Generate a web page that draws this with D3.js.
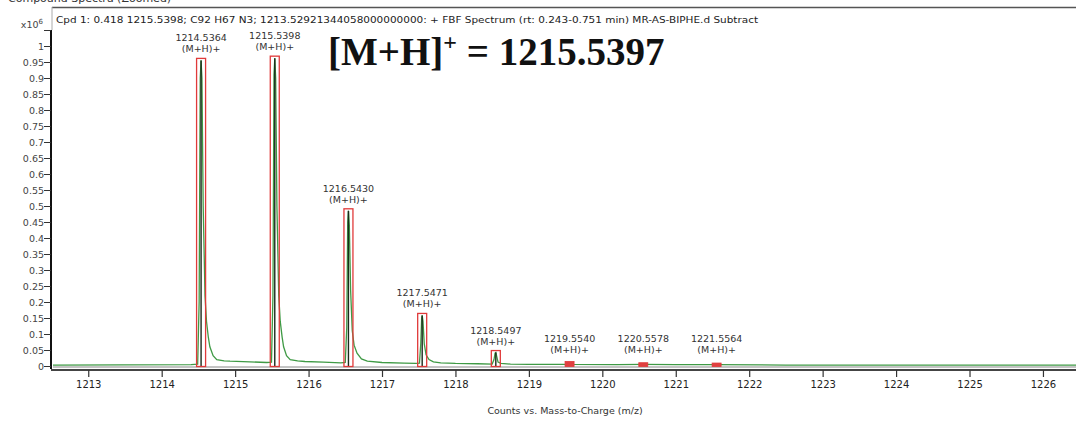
<!DOCTYPE html>
<html>
<head>
<meta charset="utf-8">
<script src="https://cdn.jsdelivr.net/npm/d3@7/dist/d3.min.js"></script>
<style>
  html, body { margin: 0; padding: 0; background: #fff; }
  svg { display: block; }
  text { font-family: "DejaVu Sans", "Liberation Sans", sans-serif; }
  text.ann { font-family: "Liberation Serif", "Times New Roman", serif; }
</style>
</head>
<body>
<svg id="chart" width="1076" height="421"></svg>
<script>
// Labelled isotope peaks: m/z, intensity (x10^6)
const peakMz = [1214.5364, 1215.5398, 1216.5430, 1217.5471, 1218.5497, 1219.5540, 1220.5578, 1221.5564];
const peakIntensity = [0.955, 0.962, 0.485, 0.158, 0.042, 0.008, 0.004, 0.003];
const peakIon = "(M+H)+";
const protonatedMass = "1215.5397";

// Profile trace (m/z, intensity x10^6)
const profileMz = [
  1212.52, 1214.40, 1214.49, 1214.51, 1214.525, 1214.536, 1214.548, 1214.565, 1214.59, 1214.61, 1214.635, 1214.656, 1214.70, 1214.75, 1214.85, 1214.93, 1215.20, 1215.43,
  1215.495, 1215.515, 1215.529, 1215.540, 1215.552, 1215.569, 1215.594, 1215.614, 1215.64, 1215.66, 1215.70, 1215.75, 1215.85, 1215.95, 1216.20, 1216.44,
  1216.50, 1216.52, 1216.533, 1216.543, 1216.555, 1216.572, 1216.595, 1216.62, 1216.66, 1216.72, 1216.80, 1217.00, 1217.30, 1217.46,
  1217.51, 1217.528, 1217.540, 1217.547, 1217.558, 1217.575, 1217.60, 1217.64, 1217.70, 1217.80, 1218.00, 1218.30, 1218.50,
  1218.525, 1218.540, 1218.550, 1218.562, 1218.58, 1218.62, 1218.75, 1219.00, 1219.53, 1219.554, 1219.58, 1220.20, 1220.558, 1221.00, 1221.556, 1222.50, 1224.00, 1226.45
];
const profileIntensity = [
  0.003, 0.004, 0.006, 0.20, 0.90, 0.955, 0.90, 0.50, 0.22, 0.14, 0.09, 0.06, 0.032, 0.020, 0.016, 0.015, 0.013, 0.011,
  0.012, 0.22, 0.91, 0.962, 0.90, 0.50, 0.22, 0.14, 0.09, 0.06, 0.032, 0.020, 0.016, 0.014, 0.012, 0.010,
  0.011, 0.12, 0.45, 0.485, 0.44, 0.24, 0.11, 0.065, 0.040, 0.022, 0.015, 0.011, 0.009, 0.008,
  0.009, 0.07, 0.15, 0.158, 0.14, 0.07, 0.035, 0.020, 0.013, 0.010, 0.008, 0.007, 0.006,
  0.02, 0.040, 0.042, 0.03, 0.012, 0.008, 0.006, 0.005, 0.005, 0.008, 0.005, 0.004, 0.005, 0.004, 0.004, 0.003, 0.003, 0.003
];

const yTicks = d3.range(0, 21).map(i => +(i * 0.05).toFixed(2));
const xTicks = d3.range(1213, 1227);

const headerText = "Cpd 1: 0.418 1215.5398; C92 H67 N3; 1213.52921344058000000000: + FBF Spectrum (rt: 0.243-0.751 min) MR-AS-BIPHE.d  Subtract";
const xTitle = "Counts vs. Mass-to-Charge (m/z)";
const panelTitle = "Compound Spectra (Zoomed)";

const svg = d3.select("#chart");

const x = d3.scaleLinear().domain([1212.52, 1226.45]).range([53, 1076]);
const y = d3.scaleLinear().domain([0, 1]).range([366, 46]);

// panel caption, mostly above the visible area
svg.append("text").attr("x", 8).attr("y", 2)
  .attr("font-size", 11).attr("fill", "#333").text(panelTitle);

// frame
svg.append("line").attr("x1", 52).attr("x2", 1076).attr("y1", 7.5).attr("y2", 7.5)
  .attr("stroke", "#555").attr("stroke-width", 1.5);
svg.append("line").attr("x1", 52).attr("x2", 52).attr("y1", 7).attr("y2", 30)
  .attr("stroke", "#aaa").attr("stroke-width", 1);

// header
svg.append("text").attr("x", 56).attr("y", 23)
  .attr("font-size", 9).attr("fill", "#222")
  .attr("textLength", 702).attr("lengthAdjust", "spacingAndGlyphs")
  .text(headerText);

// y axis
const yAxis = d3.axisLeft(y)
  .tickValues(yTicks.concat([1.05]))
  .tickSize(7)
  .tickFormat(d => d > 1.001 ? "" : String(d));
const gy = svg.append("g").attr("transform", "translate(51,0)").call(yAxis);
gy.select(".domain").attr("stroke", "#111").attr("stroke-width", 2).attr("d", `M0,${y(1.05)}V${y(0) + 3}`);
gy.selectAll(".tick line").attr("stroke", "#333").attr("stroke-width", 1);
gy.selectAll(".tick text").attr("font-size", 9.5).attr("fill", "#444").attr("x", -7).attr("dy", "0.35em");

const mult = svg.append("text").attr("x", 43).attr("y", 28).attr("text-anchor", "end")
  .attr("font-size", 9.5).attr("fill", "#444");
mult.append("tspan").text("x10");
mult.append("tspan").attr("font-size", 7).attr("dy", -4).text("6");

// x axis
const xAxis = d3.axisBottom(x).tickValues(xTicks).tickSize(7).tickFormat(d3.format("d"));
const gx = svg.append("g").attr("transform", "translate(0,370)").call(xAxis);
gx.select(".domain").attr("stroke", "#444").attr("stroke-width", 2).attr("d", `M51,0H1076`);
gx.selectAll(".tick line").attr("stroke", "#333").attr("stroke-width", 1.2);
gx.selectAll(".tick text").attr("font-size", 10).attr("fill", "#222").attr("y", 11);

svg.append("text").attr("x", 565).attr("y", 414).attr("text-anchor", "middle")
  .attr("font-size", 9.5).attr("fill", "#333").text(xTitle);

// baseline under the trace
svg.append("line").attr("x1", 53).attr("x2", 1076).attr("y1", y(0) + 1).attr("y2", y(0) + 1)
  .attr("stroke", "#888").attr("stroke-width", 1);

// profile trace
const profile = profileMz.map((m, i) => [m, profileIntensity[i]]);
svg.append("path").datum(profile)
  .attr("fill", "none").attr("stroke", "#3f9a45").attr("stroke-width", 1.3)
  .attr("d", d3.line().x(d => x(d[0])).y(d => y(d[1])));

// centroid sticks
svg.selectAll("line.stick").data(peakMz).enter().append("line")
  .attr("class", "stick")
  .attr("x1", d => x(d)).attr("x2", d => x(d))
  .attr("y1", y(0)).attr("y2", (d, i) => y(peakIntensity[i]))
  .attr("stroke", "#1c2a1c").attr("stroke-width", 1.4);

// peak boxes
const boxTop = i => Math.min(y(peakIntensity[i]) - 2, y(0) - 2);
svg.selectAll("rect.pk").data(peakMz).enter().append("rect")
  .attr("class", "pk")
  .attr("x", d => x(d) - 4.5)
  .attr("width", 9)
  .attr("y", (d, i) => boxTop(i))
  .attr("height", (d, i) => y(0) + 0.5 - boxTop(i))
  .attr("fill", (d, i) => peakIntensity[i] < 0.02 ? "#e04040" : "none")
  .attr("stroke", "#e03a3a").attr("stroke-width", (d, i) => peakIntensity[i] < 0.02 ? 0.8 : 1.3);

// peak labels
const lab = svg.selectAll("g.lab").data(peakMz).enter().append("g").attr("class", "lab")
  .attr("transform", (d, i) => `translate(${x(d)},${Math.min(y(peakIntensity[i]) - 8, 353)})`);
lab.append("text").attr("text-anchor", "middle").attr("y", -11)
  .attr("font-size", 9.5).attr("fill", "#333").text(d => d.toFixed(4));
lab.append("text").attr("text-anchor", "middle").attr("y", 0)
  .attr("font-size", 9.5).attr("fill", "#333").text(peakIon);

// molecular ion annotation
const ann = svg.append("text").attr("class", "ann").attr("x", 328).attr("y", 65)
  .attr("font-weight", "bold").attr("font-size", 39).attr("fill", "#111");
ann.append("tspan").text("[M+H]");
ann.append("tspan").attr("font-size", 24).attr("dy", -15).text("+");
ann.append("tspan").attr("dy", 15).text(" = " + protonatedMass);
</script>
</body>
</html>
